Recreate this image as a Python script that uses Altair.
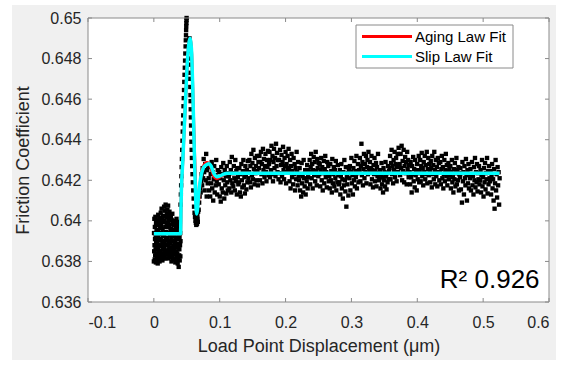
import altair as alt
import pandas as pd
import numpy as np

# ---------------- data ----------------
# friction values are stored as offsets from 0.64 in units of 1e-5
BASE = 0.64
UNIT = 1e-5

cluster_x_range = [0.0, 0.0405]
cluster_y = [
    -200, -60, -150, 10, -120, -190, -30, -90, -170, 20, -140, -75, -205, -10, -110, -160, -45, -130, -185, -20,
    -170, 0, -100, -210, -50, -140, 30, -80, -190, -120, -20, -160, 15, -65, -200, -95, -35, -150, -5, -180,
    -150, 40, -90, -180, -20, -125, 60, -60, -170, 10, -110, -195, -40, -140, 25, -75, -160, -5, -100, -185,
    -130, 70, -70, -175, 0, -115, 50, -150, -30, -185, 80, -95, -55, -165, 20, -120, -10, -145, 35, -85,
    -90, 55, -160, -30, -120, 75, -185, 0, -60, -140, 30, -100, -175, 45, -20, -130, -70, 15, -155, -45,
    -110, 20, -170, -40, -85, -200, 5, -135, -60, -180, 35, -100, -15, -150, -75, -190, -5, -125, -50, -160,
    -140, -20, -190, -70, -110, 0, -165, -45, -205, -95, -25, -150, -130, -60, -180, 10, -115, -200, -35, -85,
    -160, -50, -210, -90, -130, -10, -185, -70, -227, -115, -30, -170, -140, -80, -195, -5, -120, -60, -175, -100,
]

rise_x = [0.0405, 0.0410, 0.0414, 0.0418, 0.0422, 0.0426, 0.0430, 0.0434, 0.0438, 0.0442, 0.0446, 0.0450,
          0.0454, 0.0458, 0.0462, 0.0466, 0.0470, 0.0474, 0.0478, 0.0482, 0.0485, 0.0488, 0.0490, 0.0492,
          0.0494, 0.0496, 0.0497]
rise_y = [80, 130, 175, 220, 265, 305, 350, 395, 440, 480, 520, 565, 605, 645, 685, 720, 755, 790, 825,
          860, 890, 915, 940, 960, 975, 990, 1000]

fall_x = [0.0540, 0.0542, 0.0544, 0.0546, 0.0548, 0.0550, 0.0552, 0.0554, 0.0556, 0.0558, 0.0560, 0.0562,
          0.0565, 0.0568, 0.0571, 0.0574, 0.0578, 0.0582, 0.0587, 0.0592, 0.0598, 0.0604,
          0.0610, 0.0618, 0.0625, 0.0632, 0.0638, 0.0644, 0.0650, 0.0655, 0.0660, 0.0664, 0.0668, 0.0672]
fall_y = [900, 870, 840, 800, 770, 730, 700, 660, 620, 590, 550, 510, 470, 430, 390, 350, 310, 270, 230,
          190, 150, 110, 70, 40, 20, 0, -10, -20, 5, -15, 30, 10, -5, 45]

band_x_range = [0.068, 0.525]
band_y = [
    55, 90, 120, 160, 140, 195, 230, 175, 260, 210, 305, 240, 150, 280, 200, 330, 120, 250, 185, 270,
    210, 150, 265, 120, 230, 185, 290, 160, 240, 100, 205, 270, 140, 225, 175, 300, 195, 130, 250, 215,
    180, 240, 120, 210, 95, 265, 160, 230, 140, 285, 200, 110, 250, 175, 220, 135, 270, 190, 150, 235,
    220, 160, 290, 200, 250, 140, 315, 185, 235, 170, 270, 210, 150, 300, 195, 245, 130, 260, 215, 180,
    190, 260, 140, 230, 120, 280, 200, 165, 245, 300, 175, 215, 135, 270, 225, 155, 250, 190, 295, 210,
    240, 300, 190, 270, 165, 330, 225, 285, 205, 350, 255, 180, 310, 235, 270, 200, 320, 245, 175, 290,
    260, 320, 200, 290, 340, 230, 280, 185, 355, 250, 305, 215, 270, 330, 240, 195, 300, 265, 345, 225,
    280, 340, 215, 300, 250, 370, 230, 320, 195, 290, 355, 260, 310, 220, 380, 270, 335, 240, 300, 205,
    300, 235, 350, 190, 275, 325, 220, 290, 365, 250, 205, 310, 270, 340, 185, 280, 240, 320, 260, 355,
    250, 195, 300, 160, 270, 330, 215, 245, 180, 310, 230, 280, 150, 260, 205, 340, 240, 175, 290, 220,
    200, 260, 150, 230, 120, 285, 185, 220, 140, 300, 210, 170, 250, 130, 240, 195, 275, 160, 215, 250,
    240, 300, 180, 265, 330, 210, 280, 160, 250, 315, 225, 290, 195, 340, 245, 175, 305, 260, 220, 285,
    230, 280, 170, 250, 310, 200, 265, 150, 235, 295, 185, 255, 320, 215, 240, 165, 290, 225, 270, 195,
    220, 160, 280, 200, 245, 140, 305, 185, 230, 265, 170, 250, 210, 295, 150, 235, 190, 275, 225, 180,
    190, 250, 130, 220, 280, 160, 205, 110, 240, 175, 300, 200, 145, 265, 70, 215, 180, 235, 125, 255,
    210, 270, 150, 240, 310, 185, 225, 130, 260, 200, 295, 170, 245, 215, 320, 160, 235, 280, 190, 250,
    250, 310, 195, 270, 380, 225, 290, 175, 255, 330, 210, 280, 240, 320, 185, 265, 300, 230, 340, 260,
    240, 290, 180, 260, 320, 205, 250, 165, 275, 230, 310, 195, 245, 285, 170, 265, 220, 330, 235, 200,
    210, 250, 160, 230, 285, 180, 215, 140, 260, 200, 240, 170, 290, 220, 155, 235, 190, 270, 205, 245,
    260, 320, 205, 285, 350, 230, 270, 185, 300, 250, 340, 215, 280, 310, 195, 265, 330, 240, 360, 275,
    280, 225, 330, 260, 370, 200, 295, 245, 350, 190, 270, 315, 235, 290, 180, 340, 255, 300, 215, 275,
    240, 180, 290, 215, 140, 270, 230, 315, 195, 255, 165, 300, 225, 250, 150, 280, 205, 235, 320, 190,
    250, 300, 195, 270, 335, 220, 260, 175, 290, 240, 320, 205, 275, 230, 340, 185, 255, 310, 225, 280,
    245, 190, 295, 260, 165, 320, 230, 275, 205, 340, 250, 180, 300, 220, 265, 170, 310, 240, 285, 200,
    240, 290, 180, 255, 320, 210, 265, 160, 230, 300, 195, 250, 330, 220, 275, 175, 245, 285, 205, 260,
    225, 270, 160, 240, 300, 190, 215, 140, 255, 205, 285, 170, 235, 310, 180, 250, 200, 265, 150, 230,
    215, 260, 155, 235, 90, 290, 195, 240, 130, 270, 210, 175, 305, 225, 100, 250, 185, 280, 160, 230,
    210, 255, 150, 230, 290, 175, 220, 130, 265, 200, 310, 165, 240, 190, 280, 145, 235, 205, 270, 180,
    200, 250, 140, 225, 300, 170, 215, 120, 260, 190, 285, 155, 235, 205, 310, 135, 245, 180, 270, 210,
    195, 245, 130, 220, 280, 160, 205, 100, 255, 60, 185, 300, 150, 230, 115, 265, 175, 240, 80, 210,
]

slip_x = [0, 0.0405, 0.0415, 0.0440, 0.0465, 0.0490, 0.0510, 0.0530, 0.0548, 0.0562, 0.0575, 0.0590,
          0.0605, 0.0620, 0.0635, 0.0648, 0.0660, 0.0680, 0.0710, 0.0750, 0.0790, 0.0835, 0.0870,
          0.0910, 0.0960, 0.1010, 0.1060, 0.1120, 0.525]
slip_y = [0.63936, 0.63936, 0.6411, 0.6430, 0.6448, 0.6466, 0.6479, 0.6487, 0.6490, 0.6488, 0.6482,
          0.6466, 0.6446, 0.6427, 0.6411, 0.64034, 0.6405, 0.6413, 0.6421, 0.6426, 0.64275, 0.64282,
          0.6427, 0.64235, 0.64218, 0.64222, 0.6423, 0.64235, 0.64235]

aging_x = [0, 0.0405, 0.0415, 0.0440, 0.0465, 0.0490, 0.0510, 0.0530, 0.0548, 0.0562, 0.0575, 0.0590,
           0.0605, 0.0620, 0.0635, 0.0650, 0.0662, 0.0675, 0.0695, 0.0720, 0.0760, 0.0800, 0.0830,
           0.0870, 0.0910, 0.0950, 0.1000, 0.1060, 0.1120, 0.525]
aging_y = [0.63936, 0.63936, 0.6411, 0.6430, 0.6448, 0.6466, 0.6479, 0.6487, 0.6490, 0.6488, 0.6482,
           0.6466, 0.6448, 0.6431, 0.6417, 0.6409, 0.6407, 0.64085, 0.6416, 0.6423, 0.64275, 0.64288,
           0.64285, 0.6426, 0.6422, 0.64208, 0.64215, 0.64228, 0.64235, 0.64235]

series_names = ["Aging Law Fit", "Slip Law Fit"]
series_colors = ["#ff0000", "#00ffff"]

x_ticks = [-0.1, 0, 0.1, 0.2, 0.3, 0.4, 0.5, 0.6]
y_ticks = [0.636, 0.638, 0.64, 0.642, 0.644, 0.646, 0.648, 0.65]

r2_label = "R\u00b2 0.926"

# ---------------- tables ----------------
cx = np.linspace(cluster_x_range[0], cluster_x_range[1], len(cluster_y))
bx = np.linspace(band_x_range[0], band_x_range[1], len(band_y))
pts = pd.DataFrame({
    "x": np.concatenate([cx, rise_x, fall_x, bx]),
    "y": BASE + UNIT * np.array(cluster_y + rise_y + fall_y + band_y, dtype=float),
})
fit_aging = pd.DataFrame({"x": aging_x, "y": aging_y, "model": series_names[0]})
fit_slip = pd.DataFrame({"x": slip_x, "y": slip_y, "model": series_names[1]})
xt = pd.DataFrame({"x": x_ticks})
yt = pd.DataFrame({"y": y_ticks})
one = pd.DataFrame({"a": [0]})

W, H = 461, 284
FONT = "Liberation Sans"
GRAY = "#8a8a8a"
TXT = "#262626"

xscale = alt.Scale(domain=[-0.1, 0.6], nice=False, zero=False)
yscale = alt.Scale(domain=[0.636, 0.65], nice=False, zero=False)
xaxis = alt.Axis(values=x_ticks, title="Load Point Displacement (\u03bcm)", grid=False, ticks=False,
                 domain=False, labelExpr="toString(round(datum.value*10)/10)", labelPadding=12,
                 titlePadding=7, zindex=1)
yaxis = alt.Axis(values=y_ticks, title="Friction Coefficient", grid=False, ticks=False, domain=False,
                 labelExpr="toString(round(datum.value*1000)/1000)", labelPadding=7, titlePadding=8,
                 zindex=1)
X = alt.X("x:Q", scale=xscale, axis=xaxis)
Y = alt.Y("y:Q", scale=yscale, axis=yaxis)
color = alt.Color("model:N", scale=alt.Scale(domain=series_names, range=series_colors), legend=None)

bg = alt.Chart(one).mark_rect(color="#f0f0f0").encode(
    x=alt.value(-76), x2=alt.value(W + 7), y=alt.value(-13), y2=alt.value(H + 58))
plotbg = alt.Chart(one).mark_rect(color="white").encode(
    x=alt.value(0), x2=alt.value(W), y=alt.value(0), y2=alt.value(H))
scatter = alt.Chart(pts).mark_square(size=19, color="black", opacity=1).encode(x=X, y=Y)
red = alt.Chart(fit_aging).mark_line(strokeWidth=3, interpolate="monotone").encode(x=X, y=Y, color=color)
cyan = alt.Chart(fit_slip).mark_line(strokeWidth=3.5, interpolate="monotone").encode(x=X, y=Y, color=color)
frame = alt.Chart(one).mark_rect(fillOpacity=0, stroke=GRAY, strokeWidth=1).encode(
    x=alt.value(0), x2=alt.value(W), y=alt.value(0), y2=alt.value(H))
tb = alt.Chart(xt).mark_rule(color=GRAY).encode(x=X, y=alt.value(H), y2=alt.value(H - 4))
tt = alt.Chart(xt).mark_rule(color=GRAY).encode(x=X, y=alt.value(0), y2=alt.value(4))
tl = alt.Chart(yt).mark_rule(color=GRAY).encode(y=Y, x=alt.value(0), x2=alt.value(4))
tr = alt.Chart(yt).mark_rule(color=GRAY).encode(y=Y, x=alt.value(W), x2=alt.value(W - 4))
r2 = alt.Chart(pd.DataFrame({"x": [0.5857], "y": [0.6367], "t": [r2_label]})).mark_text(
    align="right", baseline="alphabetic", fontSize=26, font=FONT, color="black").encode(
    x=X, y=Y, text="t:N")

# legend box (drawn by hand, MATLAB style)
LX0, LX1, LY0, LY1 = 268, 425, 7, 50
leg_box = alt.Chart(one).mark_rect(fill="white", stroke=GRAY, strokeWidth=1).encode(
    x=alt.value(LX0), x2=alt.value(LX1), y=alt.value(LY0), y2=alt.value(LY1))
leg_layers = [leg_box]
for i, (name, col) in enumerate(zip(series_names, series_colors)):
    yy = 18.5 + 20 * i
    leg_layers.append(alt.Chart(one).mark_rule(color=col, strokeWidth=3).encode(
        x=alt.value(274), x2=alt.value(324), y=alt.value(yy)))
    leg_layers.append(alt.Chart(one).mark_text(
        text=name, align="left", baseline="middle", fontSize=15, font=FONT, color="black").encode(
        x=alt.value(327), y=alt.value(yy)))

chart = alt.layer(bg, plotbg, scatter, red, cyan, frame, tb, tt, tl, tr, r2, *leg_layers).properties(
    width=W, height=H,
    autosize=alt.AutoSizeParams(type="none"),
    padding={"left": 88, "top": 18, "right": 19, "bottom": 63},
    background="white",
).configure_view(stroke=None).configure_axis(
    labelFont=FONT, labelFontSize=16, labelColor=TXT,
    titleFont=FONT, titleFontSize=18, titleFontWeight="normal", titleColor=TXT,
)

chart.save("out.html", embed_options={"renderer": "svg", "actions": False})
